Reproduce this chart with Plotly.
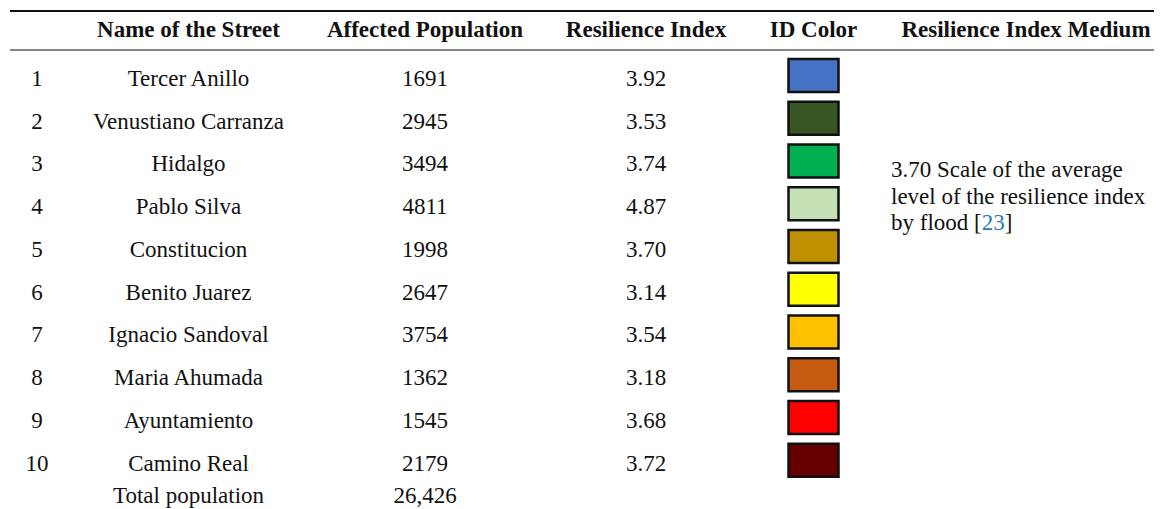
import plotly.graph_objects as go

# ---- data ----
row_ids = ["1", "2", "3", "4", "5", "6", "7", "8", "9", "10"]
streets = ["Tercer Anillo", "Venustiano Carranza", "Hidalgo", "Pablo Silva", "Constitucion",
           "Benito Juarez", "Ignacio Sandoval", "Maria Ahumada", "Ayuntamiento", "Camino Real"]
population = [1691, 2945, 3494, 4811, 1998, 2647, 3754, 1362, 1545, 2179]
resilience = [3.92, 3.53, 3.74, 4.87, 3.70, 3.14, 3.54, 3.18, 3.68, 3.72]
id_colors = ["#4472C4", "#375623", "#00B050", "#C5E0B4", "#BF9000",
             "#FFFF00", "#FFC000", "#C55A11", "#FF0000", "#660000"]
headers = ["Name of the Street", "Affected Population", "Resilience Index", "ID Color",
           "Resilience Index Medium"]
total_label = "Total population"
total_value = "26,426"
medium_lines = ["3.70 Scale of the average",
                "level of the resilience index",
                "by flood [<span style='color:#2B7BB9'>23</span>]"]

# ---- layout constants ----
W, H = 1162, 509
OFF = 8  # browser body margin
FONT = "Liberation Serif"
FS = 23
col_x = {"id": 37, "name": 188.5, "pop": 425, "ri": 646, "color": 813.5, "med": 1026}
header_x = [col_x["name"], col_x["pop"], col_x["ri"], col_x["color"], col_x["med"]]
row0, step = 75.5, 42.75
box_y = [row0 + i * step for i in range(len(streets))]
text_y = [y + 4.5 for y in box_y]
total_y = 497.5
header_y = 31.5
medium_y = [169.5, 196.5, 222.5]

fig = go.Figure()

def text_trace(xs, ys, texts, bold=False):
    fig.add_trace(go.Scatter(
        x=xs, y=ys, text=[f"<b>{t}</b>" if bold else t for t in texts],
        mode="text", textposition="middle center", cliponaxis=False,
        textfont=dict(family=FONT, size=FS, color="#111111"),
        hoverinfo="skip", showlegend=False))

text_trace(header_x, [header_y] * len(headers), headers, bold=True)
text_trace([col_x["id"]] * len(row_ids), text_y, row_ids)
text_trace([col_x["name"]] * len(streets), text_y, streets)
text_trace([col_x["pop"]] * len(population), text_y, [str(p) for p in population])
text_trace([col_x["ri"]] * len(resilience), text_y, [f"{r:.2f}" for r in resilience])
text_trace([col_x["name"], col_x["pop"]], [total_y, total_y], [total_label, total_value])

# colour boxes
bw, bh = 50, 33
for y, c in zip(box_y, id_colors):
    fig.add_shape(type="rect", x0=col_x["color"] - bw / 2, x1=col_x["color"] + bw / 2,
                  y0=y - bh / 2, y1=y + bh / 2, fillcolor=c,
                  line=dict(color="#111111", width=2.5), layer="above")

# rules
fig.add_shape(type="line", x0=10, x1=W + OFF, y0=11, y1=11, line=dict(color="#111111", width=2))
fig.add_shape(type="line", x0=10, x1=W + OFF, y0=50, y1=50, line=dict(color="#111111", width=1))

for line, y in zip(medium_lines, medium_y):
    fig.add_annotation(x=889, y=y, xref="x", yref="y", text=line, showarrow=False,
                       xanchor="left", yanchor="middle", align="left",
                       font=dict(family=FONT, size=FS, color="#111111"))

fig.update_layout(
    width=W, height=H, margin=dict(l=0, r=0, t=0, b=0),
    paper_bgcolor="white", plot_bgcolor="white",
    xaxis=dict(range=[OFF, W + OFF], visible=False, fixedrange=True),
    yaxis=dict(range=[H + OFF, OFF], visible=False, fixedrange=True),
)

fig.write_html("out.html")
